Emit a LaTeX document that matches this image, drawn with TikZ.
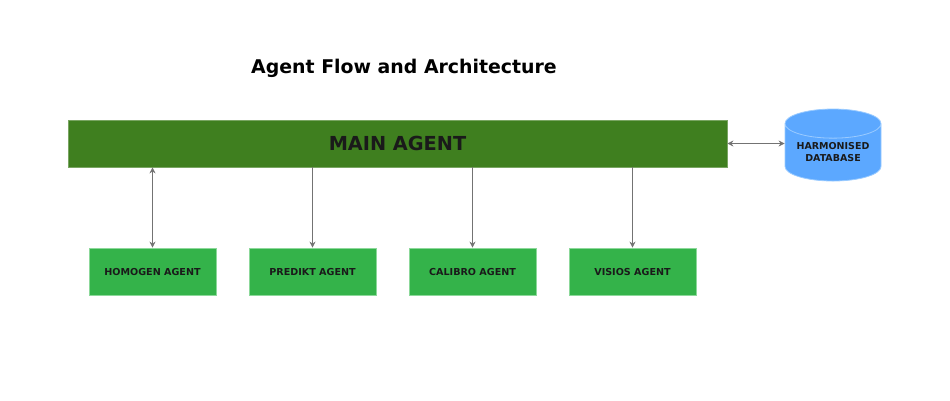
\documentclass[tikz,border=0pt]{standalone}
\usepackage{fontspec}
\setmainfont{DejaVu Sans}
\usetikzlibrary{shapes.geometric,arrows.meta}
\definecolor{maingreen}{HTML}{3F7F1F}
\definecolor{agentgreen}{HTML}{34B34A}
\definecolor{agentborder}{HTML}{8CD89A}
\definecolor{dbblue}{HTML}{5CA8FF}
\definecolor{dbborder}{HTML}{9ACBFF}
\definecolor{txt}{HTML}{1A1A1A}
\begin{document}
\begin{tikzpicture}[x=1pt,y=-1pt,
  agentbox/.style={draw=agentborder,fill=agentgreen,line width=0.8pt,minimum width=127pt,minimum height=47pt,inner sep=0pt,font=\bfseries\fontsize{9.6}{11}\selectfont,text=txt},
  conn/.style={draw=black!55,line width=1pt,-{Stealth[length=6pt,width=6pt,fill=black]}},
  bconn/.style={draw=black!55,line width=1pt,{Stealth[length=6pt,width=6pt,fill=black]}-{Stealth[length=6pt,width=6pt,fill=black]}}]
\useasboundingbox (0,0) rectangle (950,400);
\node[font=\bfseries\fontsize{18.9}{22}\selectfont,text=black] (title) at (404,68) {Agent Flow and Architecture};
\node[draw=maingreen!70!white,fill=maingreen,line width=0.8pt,minimum width=659pt,minimum height=47pt,inner sep=0pt,font=\bfseries\fontsize{19.3}{22}\selectfont,text=txt] (main) at (397.5,143.5) {MAIN AGENT};
\node[cylinder,shape border rotate=90,aspect=0.4,draw=dbborder,fill=dbblue,line width=0.8pt,minimum width=96pt,minimum height=72pt,inner sep=0pt,align=center,font=\bfseries\fontsize{9.5}{12}\selectfont,text=txt] (db) at (833,152.5) {HARMONISED\\DATABASE};
\node[agentbox] (homogen) at (152.5,271.5) {HOMOGEN AGENT};
\node[agentbox] (predikt) at (312.5,271.5) {PREDIKT AGENT};
\node[agentbox] (calibro) at (472.5,271.5) {CALIBRO AGENT};
\node[agentbox] (visios) at (632.5,271.5) {VISIOS AGENT};
\draw[bconn] (homogen.north) -- (homogen.north |- main.south);
\draw[conn] (predikt.north |- main.south) -- (predikt.north);
\draw[conn] (calibro.north |- main.south) -- (calibro.north);
\draw[conn] (visios.north |- main.south) -- (visios.north);
\draw[bconn] (main.east) -- (main.east -| db.west);
\end{tikzpicture}
\end{document}
